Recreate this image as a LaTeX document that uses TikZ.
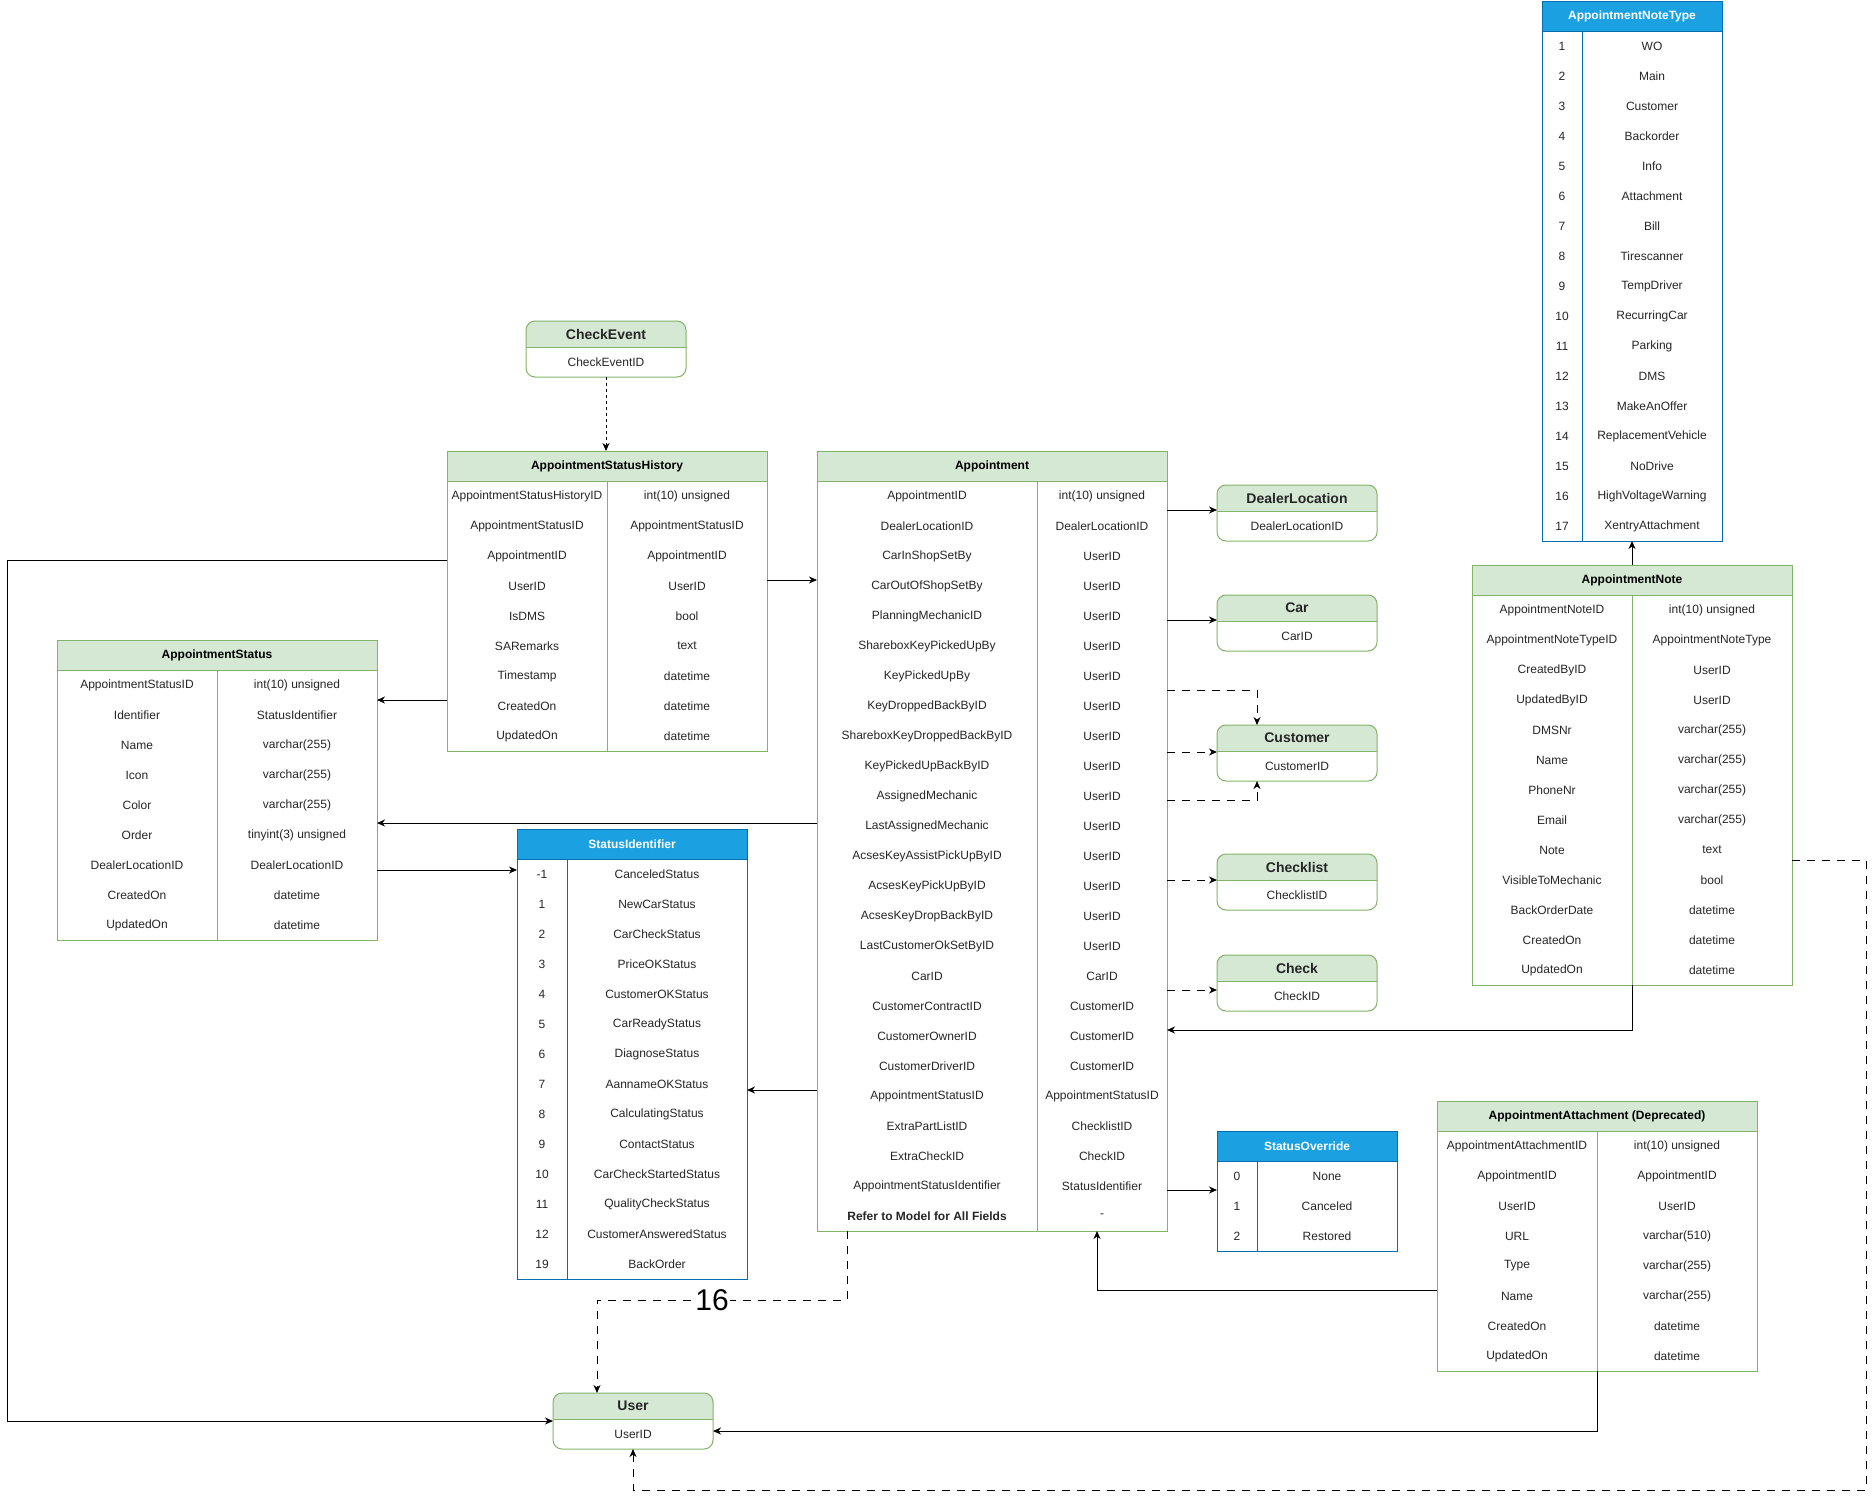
\documentclass[tikz,border=0pt]{standalone}
\usepackage{fontspec}
\setmainfont{Liberation Sans}
\usetikzlibrary{arrows.meta}
\definecolor{greenline}{HTML}{82B366}
\definecolor{greenhead}{HTML}{D5E8D4}
\definecolor{greenhtext}{HTML}{000000}
\definecolor{blueline}{HTML}{006EAF}
\definecolor{bluehead}{HTML}{1BA1E2}
\definecolor{bluehtext}{HTML}{FFFFFF}

% #1 name, #2 x, #3 y, #4 left col width, #5 right col width, #6 title, #7 rows, #8 scheme
\newcommand\ertable[8]{%
  \foreach \a/\b [count=\i] in {#7} {\xdef\ernrows{\i}}%
  \pgfmathsetmacro\erw{#4+#5}%
  \pgfmathsetmacro\erh{30+30*\ernrows}%
  \fill[#8head] (#2,#3) rectangle ++(\erw,30);
  \node[draw=#8line, line width=1pt, inner sep=0pt, outer sep=0pt,
        minimum width=\erw pt, minimum height=\erh pt, anchor=north west] (#1) at (#2,#3) {};
  \draw[#8line, line width=1pt] (#2,#3+30) -- ++(\erw,0) (#2+#4,#3+30) -- ++(0,\erh-30);
  \node[font=\bfseries\fontsize{12}{14}\selectfont, text=#8htext] (#1-title) at ({#2+\erw/2},{#3+15}) {#6};
  \foreach \a/\b [count=\i] in {#7} {%
    \node (#1-l\i) at ({#2+#4/2},{#3+30*\i+15}) {\a};
    \node (#1-r\i) at ({#2+#4+#5/2},{#3+30*\i+15}) {\b};
  }%
}
% #1 name, #2 x, #3 y, #4 title, #5 field
\newcommand\entity[5]{%
  \begin{scope}
    \clip (#2,#3) rectangle ++(160,26);
    \fill[greenhead, rounded corners=9pt] (#2,#3) rectangle ++(160,56);
  \end{scope}
  \node[draw=greenline, line width=1pt, rounded corners=9pt, inner sep=0pt, outer sep=0pt,
        minimum width=160pt, minimum height=56pt, anchor=north west] (#1) at (#2,#3) {};
  \draw[greenline, line width=1pt] (#2,#3+26) -- ++(160,0);
  \node[font=\bfseries\fontsize{14}{16}\selectfont] (#1-title) at ({#2+80},{#3+13}) {#4};
  \node (#1-field) at ({#2+80},{#3+41}) {#5};
}

\begin{document}
\begin{tikzpicture}[x=1pt, y=-1pt,
  every node/.style={font=\fontsize{12}{14}\selectfont, text=black!85},
  arr/.style={-{Stealth[length=8pt,width=7pt,inset=2.5pt]}, line width=1pt, black},
  dasharr/.style={arr, dash pattern=on 8pt off 7pt},
  dotarr/.style={arr, dash pattern=on 3pt off 3pt},
  plainline/.style={line width=1pt, black},
  lbl/.style={fill=white, inner sep=1pt, font=\fontsize{30}{32}\selectfont, text=black}]
\fill[white] (0,0) rectangle (1876,1499);
\useasboundingbox (0,0) rectangle (1876,1499);

% ---------- entities ----------
\entity{ce}{526}{321}{CheckEvent}{CheckEventID}
\entity{dl}{1217}{485}{DealerLocation}{DealerLocationID}
\entity{car}{1217}{595}{Car}{CarID}
\entity{cust}{1217}{725}{Customer}{CustomerID}
\entity{chl}{1217}{854}{Checklist}{ChecklistID}
\entity{chk}{1217}{955}{Check}{CheckID}
\entity{user}{553}{1393}{User}{UserID}

% ---------- tables ----------
\ertable{ash}{447}{451}{160}{160}{AppointmentStatusHistory}{%
  AppointmentStatusHistoryID/int(10) unsigned,
  AppointmentStatusID/AppointmentStatusID,
  AppointmentID/AppointmentID,
  UserID/UserID,
  IsDMS/bool,
  SARemarks/text,
  Timestamp/datetime,
  CreatedOn/datetime,
  UpdatedOn/datetime}{green}

\ertable{appt}{817}{451}{220}{130}{Appointment}{%
  AppointmentID/int(10) unsigned,
  DealerLocationID/DealerLocationID,
  CarInShopSetBy/UserID,
  CarOutOfShopSetBy/UserID,
  PlanningMechanicID/UserID,
  ShareboxKeyPickedUpBy/UserID,
  KeyPickedUpBy/UserID,
  KeyDroppedBackByID/UserID,
  ShareboxKeyDroppedBackByID/UserID,
  KeyPickedUpBackByID/UserID,
  AssignedMechanic/UserID,
  LastAssignedMechanic/UserID,
  AcsesKeyAssistPickUpByID/UserID,
  AcsesKeyPickUpByID/UserID,
  AcsesKeyDropBackByID/UserID,
  LastCustomerOkSetByID/UserID,
  CarID/CarID,
  CustomerContractID/CustomerID,
  CustomerOwnerID/CustomerID,
  CustomerDriverID/CustomerID,
  AppointmentStatusID/AppointmentStatusID,
  ExtraPartListID/ChecklistID,
  ExtraCheckID/CheckID,
  AppointmentStatusIdentifier/StatusIdentifier,
  \textbf{Refer to Model for All Fields}/-}{green}

\ertable{as}{57}{640}{160}{160}{AppointmentStatus}{%
  AppointmentStatusID/int(10) unsigned,
  Identifier/StatusIdentifier,
  Name/varchar(255),
  Icon/varchar(255),
  Color/varchar(255),
  Order/tinyint(3) unsigned,
  DealerLocationID/DealerLocationID,
  CreatedOn/datetime,
  UpdatedOn/datetime}{green}

\ertable{si}{517}{829}{50}{180}{StatusIdentifier}{%
  -1/CanceledStatus,
  1/NewCarStatus,
  2/CarCheckStatus,
  3/PriceOKStatus,
  4/CustomerOKStatus,
  5/CarReadyStatus,
  6/DiagnoseStatus,
  7/AannameOKStatus,
  8/CalculatingStatus,
  9/ContactStatus,
  10/CarCheckStartedStatus,
  11/QualityCheckStatus,
  12/CustomerAnsweredStatus,
  19/BackOrder}{blue}

\ertable{ant}{1542}{1}{40}{140}{AppointmentNoteType}{%
  1/WO, 2/Main, 3/Customer, 4/Backorder, 5/Info, 6/Attachment, 7/Bill,
  8/Tirescanner, 9/TempDriver, 10/RecurringCar, 11/Parking, 12/DMS,
  13/MakeAnOffer, 14/ReplacementVehicle, 15/NoDrive, 16/HighVoltageWarning,
  17/XentryAttachment}{blue}

\ertable{an}{1472}{565}{160}{160}{AppointmentNote}{%
  AppointmentNoteID/int(10) unsigned,
  AppointmentNoteTypeID/AppointmentNoteType,
  CreatedByID/UserID,
  UpdatedByID/UserID,
  DMSNr/varchar(255),
  Name/varchar(255),
  PhoneNr/varchar(255),
  Email/varchar(255),
  Note/text,
  VisibleToMechanic/bool,
  BackOrderDate/datetime,
  CreatedOn/datetime,
  UpdatedOn/datetime}{green}

\ertable{so}{1217}{1131}{40}{140}{StatusOverride}{%
  0/None, 1/Canceled, 2/Restored}{blue}

\ertable{aa}{1437}{1101}{160}{160}{AppointmentAttachment (Deprecated)}{%
  AppointmentAttachmentID/int(10) unsigned,
  AppointmentID/AppointmentID,
  UserID/UserID,
  URL/varchar(510),
  Type/varchar(255),
  Name/varchar(255),
  CreatedOn/datetime,
  UpdatedOn/datetime}{green}

% ---------- connectors ----------
\draw[dotarr] (ce.south) -- (ce.south |- ash.north);
\draw[arr] (ash.east |- 0,580) -- (appt.west |- 0,580);
\draw[arr] (ash.west |- 0,560) -- ++(-440,0) |- (user.west);
\draw[arr] (ash.west |- 0,700) -- (as.east |- 0,700);
\draw[arr] (appt.west |- 0,823) -- (as.east |- 0,823);
\draw[arr] (as.east |- 0,870) -- (si.west |- 0,870);
\draw[arr] (appt.west |- 0,1090) -- (si.east |- 0,1090);

\draw[arr] (appt.east |- 0,510) -- (dl.west |- 0,510);
\draw[arr] (appt.east |- 0,620) -- (car.west |- 0,620);
\draw[dasharr] (appt.east |- 0,690) -| ([xshift=40pt]cust.north west);
\draw[dasharr] (appt.east |- 0,752) -- (cust.west |- 0,752);
\draw[dasharr] (appt.east |- 0,800) -| ([xshift=40pt]cust.south west);
\draw[dasharr] (appt.east |- 0,880) -- (chl.west |- 0,880);
\draw[dasharr] (appt.east |- 0,990) -- (chk.west |- 0,990);
\draw[arr] (appt.east |- 0,1190) -- (so.west |- 0,1190);

\draw[arr] (an.north) -- (an.north |- ant.south);
\draw[arr] (an.south) |- (appt.east |- 0,1030);
\draw[dasharr] (an.east |- 0,860) -| (1866,1490) -| (user.south);

\draw[arr] (aa.west |- 0,1290) -| ([xshift=-70pt]appt.south east);
\draw[arr] (aa.south) |- (user.east |- 0,1431);

\coordinate (ua) at ([xshift=44pt]user.north west);
\coordinate (ap) at ([xshift=30pt]appt.south west);
\draw[dasharr] (ap) -- (ap |- 0,1300) -- node[lbl, pos=0.54] (lbl16) {16} (ua |- 0,1300) -- (ua);
\end{tikzpicture}
\end{document}
